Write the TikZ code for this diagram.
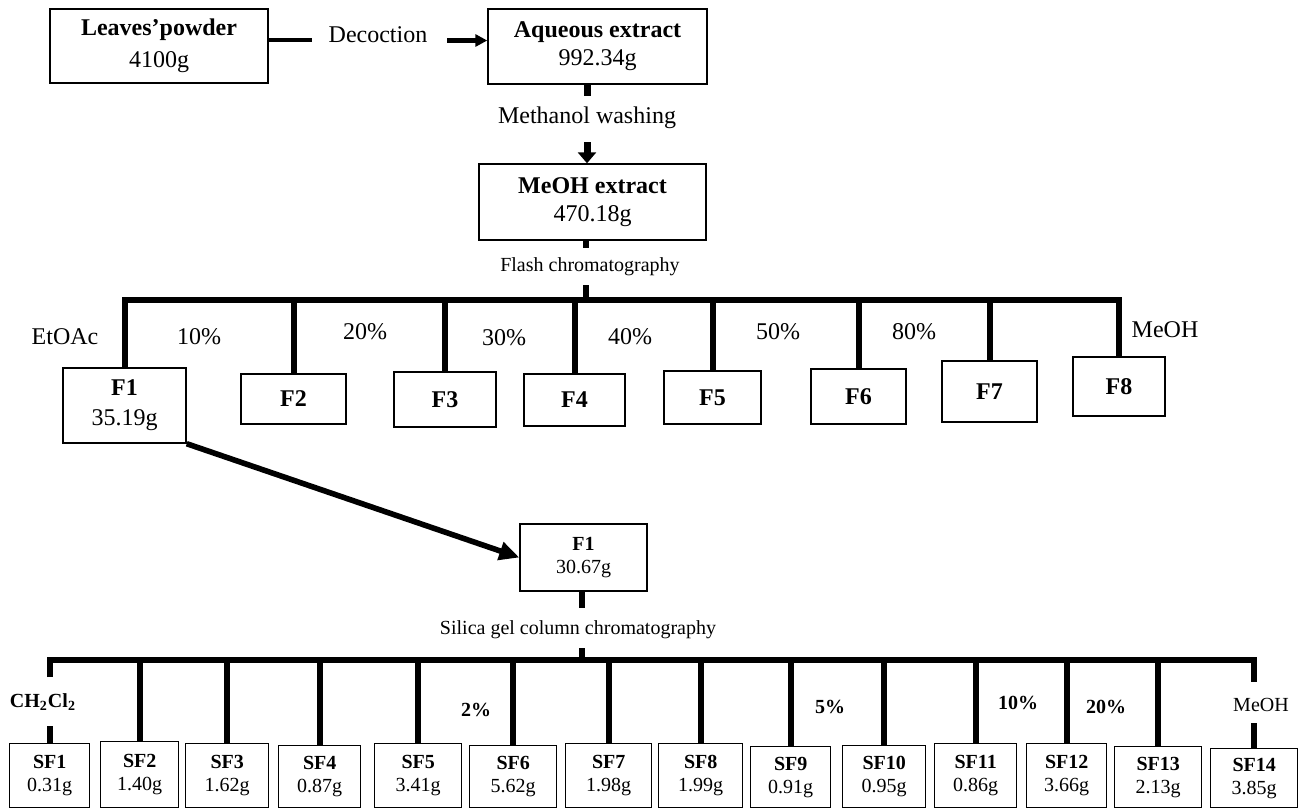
\documentclass[tikz,border=0pt]{standalone}
\usepackage{fontspec}
\setmainfont{Liberation Serif}
\usetikzlibrary{arrows.meta,calc}

\begin{document}
\begin{tikzpicture}[x=0.5pt, y=-0.5pt, line cap=butt]
  % styles
  \tikzset{
    box/.style={draw, line width=0.7pt, align=center, inner sep=0pt},
    big/.style={font=\fontsize{12}{14}\selectfont},
    small/.style={font=\fontsize{10}{11.5}\selectfont},
    lab/.style={inner sep=0pt},
    link/.style={line width=2.2pt},
    conn/.style={line width=3pt}
  }
  \useasboundingbox (0,0) rectangle (1300,809);

  % ----- extraction -----
  \node[box, font=\fontsize{12}{16}\selectfont, minimum width=109pt, minimum height=37pt]
    (leaves) at (159,46) {\textbf{Leaves’powder}\\4100g};
  \node[box, big, minimum width=109.5pt, minimum height=37.5pt]
    (aqueous) at (597.5,46.5) {\textbf{Aqueous extract}\\992.34g};
  \node[lab, big] (dec) at (378,35) {Decoction};
  \draw[link] ([yshift=3pt]leaves.east) -- ++(43,0);
  \draw[link, -{Triangle[length=6pt, width=6pt]}]
    ([xshift=-20pt, yshift=3pt]aqueous.west) -- ([yshift=3pt]aqueous.west);

  \node[lab, big] (wash) at (587,118) {Methanol washing};
  \node[box, big, minimum width=113.5pt, minimum height=38pt]
    (meoh) at (592.5,202) {\textbf{MeOH extract}\\470.18g};
  \draw[line width=3.5pt] (aqueous.south -| wash) -- ++(0,11);
  \draw[line width=3.5pt, -{Triangle[length=5.5pt, width=9pt]}, shorten <=6.5pt]
    (wash.south) -- (wash.south |- meoh.north);

  % ----- flash chromatography -----
  \node[lab, small] (flash) at (590,267) {Flash chromatography};
  \coordinate (fbar) at (586,300);
  \draw[conn] (meoh.south -| fbar) -- ++(0,7);
  \draw[conn] (fbar) -- ++(0,-15);

  \node[box, font=\fontsize{12}{15}\selectfont, minimum width=61.5pt, minimum height=37.5pt]
    (f1) at (124.5,405.5) {\textbf{F1}\\35.19g};
  \foreach \n/\cx/\cy/\w/\h in {2/293.5/399/105/50, 3/445/399.5/102/55,
      4/574.5/400/101/52, 5/712.5/397.5/97/53, 6/858.5/396.5/95/55,
      7/989.5/391.5/95/61, 8/1119/386.5/92/59}
    \node[box, big, minimum width={\w*0.5pt}, minimum height={\h*0.5pt}]
      (f\n) at (\cx,\cy) {\textbf{F\n}};

  \draw[conn] (f1.north) |- (fbar) -| (f8.north);
  \foreach \n in {2,...,7} \draw[conn] (f\n.north) -- (f\n.north |- fbar);

  % eluent labels
  \node[lab, big] (etoac) at (65,337) {EtOAc};
  \node[lab, big] (p10) at (199,337) {10\%};
  \node[lab, big] (p20) at (365,332) {20\%};
  \node[lab, big] (p30) at (504,338) {30\%};
  \node[lab, big] (p40) at (630,337) {40\%};
  \node[lab, big] (p50) at (778,332) {50\%};
  \node[lab, big] (p80) at (914,332) {80\%};
  \node[lab, big] (meoht) at (1165,330) {MeOH};

  % ----- F1 on silica gel -----
  \node[box, small, minimum width=63.5pt, minimum height=33.5pt]
    (f1b) at (583.5,557.5) {\textbf{F1}\\30.67g};
  \draw[line width=2.8pt, -{Triangle[length=10pt, width=9pt]}] (f1.south east) -- (f1b.west);

  \node[lab, small] (silica) at (578,630) {Silica gel column chromatography};
  \coordinate (sbar) at (582,660);
  \draw[conn] (f1b.south -| sbar) -- ++(0,16);
  \draw[conn] (sbar) -- ++(0,-12);

  \foreach \n/\l/\r/\t/\m in {1/9/89/743/0.31g, 2/100/178/741/1.40g, 3/185/268/743/1.62g,
      4/278/360/745/0.87g, 5/374/461/743/3.41g, 6/469/556/745/5.62g, 7/565/651/743/1.98g,
      8/658/742/743/1.99g, 9/750/830/746/0.91g, 10/842/925/745/0.95g, 11/934/1016/743/0.86g,
      12/1026/1106/743/3.66g, 13/1114/1201/746/2.13g, 14/1210/1297/748/3.85g}
    \node[box, small, anchor=north west, minimum width={(\r-\l)*0.5pt},
      minimum height={(807-\t)*0.5pt}] (sf\n) at (\l,\t) {\textbf{SF\n}\\\m};

  % eluent labels
  \node[lab, small] (cl) at (43,702) {\textbf{CH\textsubscript{2}Cl\textsubscript{2}}};
  \node[lab, small] (q2) at (476,710) {\textbf{2\%}};
  \node[lab, small] (q5) at (830,707) {\textbf{5\%}};
  \node[lab, small] (q10) at (1018,703) {\textbf{10\%}};
  \node[lab, small] (q20) at (1106,707) {\textbf{20\%}};
  \node[lab, small] (meob) at (1261,705) {MeOH};

  \draw[conn] ($(sf1.north |- cl.north)+(0,-16)$) |- (sbar)
    -| ($(sf14.north |- meob.north)+(0,-16)$);
  \draw[conn] (sf1.north) -- ++(0,-17);
  \draw[conn] (sf14.north) -- ++(0,-25);
  \foreach \n in {2,...,13} \draw[conn] (sf\n.north) -- (sf\n.north |- sbar);
\end{tikzpicture}
\end{document}
